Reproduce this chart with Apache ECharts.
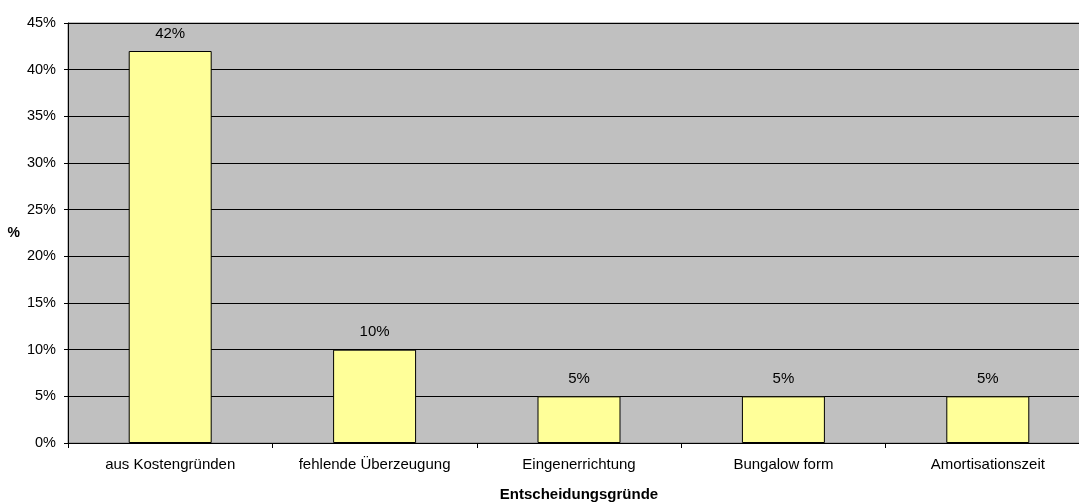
<!DOCTYPE html>
<html><head><meta charset="utf-8">
<script src="https://cdn.jsdelivr.net/npm/echarts@6/dist/echarts.min.js"></script>
<style>html,body{margin:0;padding:0;background:#fff}#c{width:1079px;height:502px}</style>
</head><body><div id="c"></div>
<script>
const categories = ["aus Kostengründen", "fehlende Überzeugung", "Eingenerrichtung", "Bungalow form", "Amortisationszeit"];
const values = [42, 10, 5, 5, 5];
const yTicks = [0, 5, 10, 15, 20, 25, 30, 35, 40, 45];

const chart = echarts.init(document.getElementById('c'), null, {renderer: 'canvas'});
const font = 'Liberation Sans, Arial, sans-serif';
chart.setOption({
  animation: false,
  grid: {left: 68, right: -11, top: 23, bottom: 59, outerBoundsMode: 'none', containLabel: false,
    show: true, backgroundColor: '#C0C0C0', borderColor: '#808080', borderWidth: 1},
  xAxis: {
    type: 'category', data: categories,
    name: 'Entscheidungsgründe', nameLocation: 'middle', nameGap: 44,
    nameTextStyle: {fontFamily: font, fontSize: 15, fontWeight: 'bold', color: '#000'},
    axisLine: {lineStyle: {color: '#000', width: 1}},
    axisTick: {show: true, alignWithLabel: false, length: 5, lineStyle: {color: '#000'}},
    axisLabel: {fontFamily: font, fontSize: 15, color: '#000', margin: 14}
  },
  yAxis: {
    type: 'value', min: 0, max: 45, interval: 5,
    name: '%', nameLocation: 'middle', nameGap: 48, nameRotate: 0,
    nameTextStyle: {fontFamily: font, fontSize: 14, fontWeight: 'bold', color: '#000', padding: [6, 0, 0, 0]},
    axisLine: {show: true, lineStyle: {color: '#000', width: 1}},
    axisTick: {show: true, length: 4, lineStyle: {color: '#000'}},
    axisLabel: {fontFamily: font, fontSize: 14.5, color: '#000', margin: 12,
      formatter: v => yTicks.includes(v) ? v + '%' : ''},
    splitLine: {show: true, lineStyle: {color: '#000', width: 1}}
  },
  series: [{
    type: 'bar', data: values, barWidth: '40.6%',
    itemStyle: {color: '#FFFF99', borderColor: '#000', borderWidth: 1},
    label: {show: true, position: 'top', distance: 10, formatter: p => p.value + '%',
      fontFamily: font, fontSize: 15, color: '#000'}
  }]
});
</script></body></html>
